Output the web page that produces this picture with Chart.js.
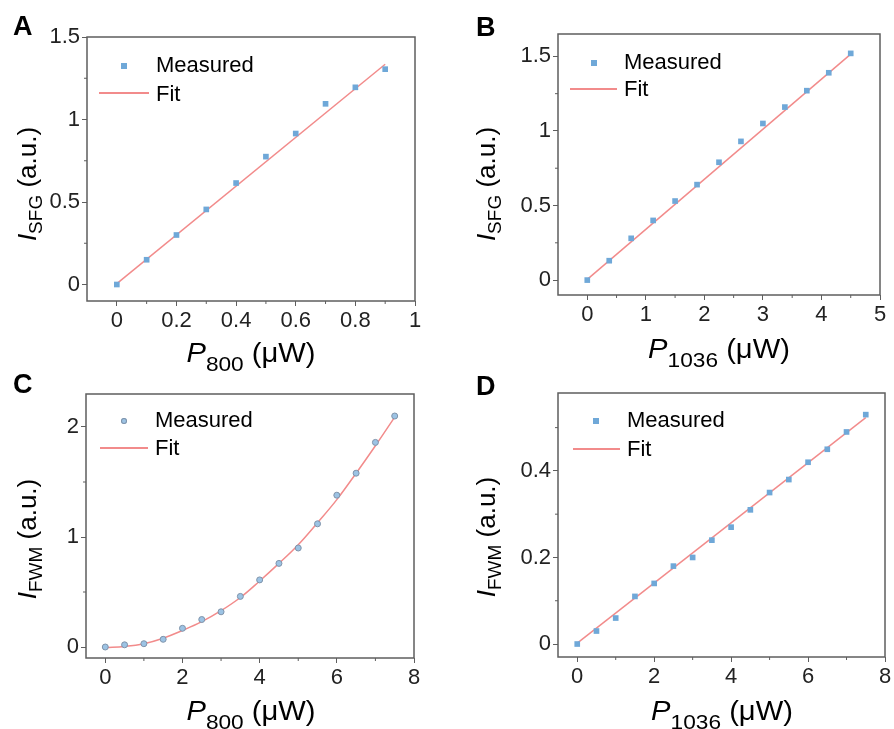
<!DOCTYPE html>
<html>
<head>
<meta charset="utf-8">
<script src="https://cdn.jsdelivr.net/npm/chart.js@4.4.1/dist/chart.umd.min.js"></script>
<style>
  body { margin: 0; background: #fff; font-family: "Liberation Sans", Arial, sans-serif; }
  #page { position: relative; width: 894px; height: 729px; overflow: hidden; }
  canvas { position: absolute; }
  .t { position: absolute; white-space: nowrap; color: #000; line-height: 1; }
  .letter { font-size: 27px; font-weight: bold; }
  .xtitle { font-size: 27px; transform: translateX(-50%) scaleX(1.08); }
  .xtitle sub { font-size: 21px; vertical-align: -9px; line-height: 0; }
  .ytitle { font-size: 26px; transform: translate(-50%, -50%) rotate(-90deg); }
  .ytitle sub { font-size: 19px; vertical-align: -6px; line-height: 0; }
  .leg { font-size: 22px; }
  .mk { position: absolute; background: #6fa8d8; }
  .mk.round { border-radius: 50%; background: #9cc3e4; box-shadow: inset 0 0 0 1px #7f93aa; }
  .ln { position: absolute; height: 2px; background: #f28b8b; }
</style>
</head>
<body>
<div id="page">
  <canvas id="chartA" width="447" height="365" style="left:0;top:0"></canvas>
  <canvas id="chartB" width="447" height="365" style="left:447px;top:0"></canvas>
  <canvas id="chartC" width="447" height="365" style="left:0;top:365px"></canvas>
  <canvas id="chartD" width="447" height="365" style="left:447px;top:365px"></canvas>

  <div class="t letter" style="left:13px;top:13px">A</div>
  <div class="t letter" style="left:476px;top:14px">B</div>
  <div class="t letter" style="left:13px;top:371px">C</div>
  <div class="t letter" style="left:476px;top:373px">D</div>

  <div class="t xtitle" style="left:251px;top:340px"><i>P</i><sub>800</sub> (μW)</div>
  <div class="t xtitle" style="left:719px;top:336px"><i>P</i><sub>1036</sub> (μW)</div>
  <div class="t xtitle" style="left:251px;top:698px"><i>P</i><sub>800</sub> (μW)</div>
  <div class="t xtitle" style="left:722px;top:698px"><i>P</i><sub>1036</sub> (μW)</div>

  <div class="t ytitle" style="left:27px;top:184px"><i>I</i><sub>SFG</sub> (a.u.)</div>
  <div class="t ytitle" style="left:486px;top:184px"><i>I</i><sub>SFG</sub> (a.u.)</div>
  <div class="t ytitle" style="left:27px;top:539px"><i>I</i><sub>FWM</sub> (a.u.)</div>
  <div class="t ytitle" style="left:486px;top:537px"><i>I</i><sub>FWM</sub> (a.u.)</div>

  <!-- legends -->
  <div class="mk" style="left:121px;top:63px;width:6px;height:6px"></div>
  <div class="t leg" style="left:156px;top:54px">Measured</div>
  <div class="ln" style="left:99px;top:92px;width:50px"></div>
  <div class="t leg" style="left:156px;top:83px">Fit</div>

  <div class="mk" style="left:591px;top:60px;width:6px;height:6px"></div>
  <div class="t leg" style="left:624px;top:51px">Measured</div>
  <div class="ln" style="left:570px;top:88px;width:47px"></div>
  <div class="t leg" style="left:624px;top:78px">Fit</div>

  <div class="mk round" style="left:121px;top:418px;width:6px;height:6px"></div>
  <div class="t leg" style="left:155px;top:409px">Measured</div>
  <div class="ln" style="left:100px;top:447px;width:48px"></div>
  <div class="t leg" style="left:155px;top:437px">Fit</div>

  <div class="mk" style="left:593px;top:418px;width:6px;height:6px"></div>
  <div class="t leg" style="left:627px;top:409px">Measured</div>
  <div class="ln" style="left:573px;top:448px;width:47px"></div>
  <div class="t leg" style="left:627px;top:438px">Fit</div>
</div>

<script>
// Panel A: SFG vs P800
const xA = [0, 0.1, 0.2, 0.3, 0.4, 0.5, 0.6, 0.7, 0.8, 0.9];
const yA = [0, 0.15, 0.30, 0.455, 0.615, 0.775, 0.915, 1.095, 1.195, 1.305];
const fitXA = [0, 0.9];
const fitYA = [0.005, 1.335];
const xTicksA = [0, 0.2, 0.4, 0.6, 0.8, 1];
const xMinorA = [0.1, 0.3, 0.5, 0.7, 0.9];
const yTicksA = [0, 0.5, 1, 1.5];
const yMinorA = [0.25, 0.75, 1.25];

// Panel B: SFG vs P1036
const xB = [0, 0.375, 0.75, 1.125, 1.5, 1.875, 2.25, 2.625, 3, 3.375, 3.75, 4.125, 4.5];
const yB = [0, 0.13, 0.28, 0.40, 0.53, 0.64, 0.79, 0.93, 1.05, 1.16, 1.27, 1.39, 1.52];
const fitXB = [0, 4.5];
const fitYB = [0.005, 1.515];
const xTicksB = [0, 1, 2, 3, 4, 5];
const xMinorB = [0.5, 1.5, 2.5, 3.5, 4.5];
const yTicksB = [0, 0.5, 1, 1.5];
const yMinorB = [0.25, 0.75, 1.25];

// Panel C: FWM vs P800
const xC = [0, 0.5, 1, 1.5, 2, 2.5, 3, 3.5, 4, 4.5, 5, 5.5, 6, 6.5, 7, 7.5];
const yC = [0, 0.02, 0.03, 0.07, 0.17, 0.25, 0.32, 0.46, 0.61, 0.76, 0.90, 1.12, 1.38, 1.58, 1.86, 2.10];
const fitXC = [0, 0.5, 1, 1.5, 2, 2.5, 3, 3.5, 4, 4.5, 5, 5.5, 6, 6.5, 7, 7.5];
const fitYC = [-0.005, 0.005, 0.03, 0.08, 0.15, 0.23, 0.33, 0.45, 0.60, 0.76, 0.93, 1.13, 1.34, 1.58, 1.83, 2.09];
const xTicksC = [0, 2, 4, 6, 8];
const xMinorC = [1, 3, 5, 7];
const yTicksC = [0, 1, 2];
const yMinorC = [0.5, 1.5];

// Panel D: FWM vs P1036
const xD = [0, 0.5, 1, 1.5, 2, 2.5, 3, 3.5, 4, 4.5, 5, 5.5, 6, 6.5, 7, 7.5];
const yD = [0, 0.03, 0.06, 0.11, 0.14, 0.18, 0.20, 0.24, 0.27, 0.31, 0.35, 0.38, 0.42, 0.45, 0.49, 0.53];
const fitXD = [0, 7.5];
const fitYD = [0.002, 0.523];
const xTicksD = [0, 2, 4, 6, 8];
const xMinorD = [1, 3, 5, 7];
const yTicksD = [0, 0.2, 0.4];
const yMinorD = [0.1, 0.3, 0.5];

const axisColor = '#5e5e5e';
const markColor = '#6fa8d8';
const fitColor = '#f28b8b';

function pts(xs, ys) {
    return xs.map((x, i) => ({ x: x, y: ys[i] }));
}

// frame box and minor ticks
const framePlugin = {
    id: 'frame',
    beforeDatasetsDraw(chart, args, opts) {
        const ctx = chart.ctx;
        const a = chart.chartArea;
        ctx.save();
        ctx.strokeStyle = axisColor;
        ctx.lineWidth = 1.5;
        ctx.strokeRect(a.left, a.top, a.right - a.left, a.bottom - a.top);
        ctx.lineWidth = 1;
        ctx.beginPath();
        opts.xMinor.forEach(v => {
            const px = chart.scales.x.getPixelForValue(v);
            ctx.moveTo(px, a.bottom);
            ctx.lineTo(px, a.bottom + 3);
        });
        opts.yMinor.forEach(v => {
            const py = chart.scales.y.getPixelForValue(v);
            ctx.moveTo(a.left, py);
            ctx.lineTo(a.left - 3, py);
        });
        ctx.stroke();
        ctx.restore();
    }
};

function makeChart(id, p) {
    const H = 365, W = 447;
    new Chart(document.getElementById(id), {
        type: 'scatter',
        data: {
            datasets: [{
                label: 'Measured',
                data: pts(p.x, p.y),
                pointStyle: p.round ? 'circle' : 'rect',
                pointRadius: p.round ? 3 : 4,
                backgroundColor: p.round ? '#9cc3e4' : markColor,
                borderColor: p.round ? '#7f93aa' : markColor,
                borderWidth: p.round ? 1 : 0,
                order: 0
            }, {
                label: 'Fit',
                data: pts(p.fx, p.fy),
                showLine: true,
                borderColor: fitColor,
                borderWidth: 1.5,
                pointRadius: 0,
                tension: p.round ? 0.4 : 0,
                order: 1
            }]
        },
        options: {
            responsive: false,
            animation: false,
            events: [],
            layout: { padding: { left: 0, top: p.area[1], right: W - p.area[2], bottom: 0 } },
            plugins: {
                legend: { display: false },
                tooltip: { enabled: false },
                frame: { xMinor: p.xMinor, yMinor: p.yMinor }
            },
            scales: {
                x: {
                    type: 'linear',
                    min: p.xRange[0], max: p.xRange[1],
                    afterBuildTicks: s => { s.ticks = p.xTicks.map(v => ({ value: v })); },
                    afterFit: s => { s.height = H - p.area[3]; },
                    grid: { display: true, drawOnChartArea: false, drawTicks: true, tickLength: 5, color: axisColor },
                    border: { display: false },
                    ticks: { color: '#222', padding: 2, font: { family: 'Liberation Sans', size: 22 }, maxRotation: 0, callback: v => String(v) }
                },
                y: {
                    type: 'linear',
                    min: p.yRange[0], max: p.yRange[1],
                    afterBuildTicks: s => { s.ticks = p.yTicks.map(v => ({ value: v })); },
                    afterFit: s => { s.width = p.area[0]; },
                    grid: { display: true, drawOnChartArea: false, drawTicks: true, tickLength: 5, color: axisColor },
                    border: { display: false },
                    ticks: { color: '#222', padding: 2, font: { family: 'Liberation Sans', size: 22 }, callback: v => String(v) }
                }
            }
        },
        plugins: [framePlugin]
    });
}

// area = [left, top, right, bottom] inside each canvas
makeChart('chartA', { x: xA, y: yA, fx: fitXA, fy: fitYA, xTicks: xTicksA, xMinor: xMinorA, yTicks: yTicksA, yMinor: yMinorA,
    xRange: [-0.1, 1], yRange: [-0.1, 1.5], area: [87, 37, 415, 301] });
makeChart('chartB', { x: xB, y: yB, fx: fitXB, fy: fitYB, xTicks: xTicksB, xMinor: xMinorB, yTicks: yTicksB, yMinor: yMinorB,
    xRange: [-0.5, 5], yRange: [-0.1, 1.65], area: [111, 34, 433, 295] });
makeChart('chartC', { x: xC, y: yC, fx: fitXC, fy: fitYC, xTicks: xTicksC, xMinor: xMinorC, yTicks: yTicksC, yMinor: yMinorC,
    xRange: [-0.5, 8], yRange: [-0.1, 2.3], area: [86, 29, 414, 293], round: true });
makeChart('chartD', { x: xD, y: yD, fx: fitXD, fy: fitYD, xTicks: xTicksD, xMinor: xMinorD, yTicks: yTicksD, yMinor: yMinorD,
    xRange: [-0.5, 8], yRange: [-0.03, 0.58], area: [111, 28, 438, 292] });
</script>
</body>
</html>
